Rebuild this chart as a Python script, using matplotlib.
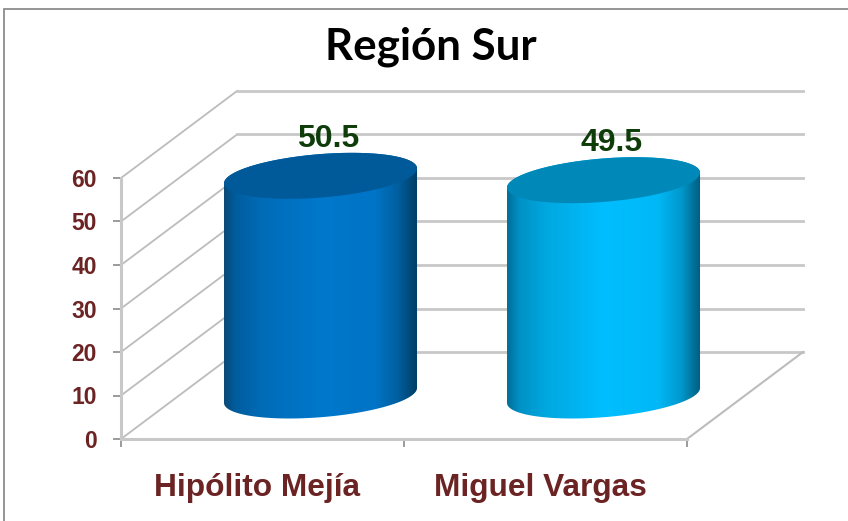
import numpy as np
import matplotlib
matplotlib.use('Agg')
import matplotlib.pyplot as plt
from matplotlib.colors import LinearSegmentedColormap
from matplotlib.patches import Polygon, Rectangle

# Data
candidates = ['Hipólito Mejía', 'Miguel Vargas']
votes = [50.5, 49.5]
y_ticks = [0, 10, 20, 30, 40, 50, 60]
title = 'Región Sur'

# Colours
side_pos = [0, 0.06, 0.2, 0.5, 0.78, 0.9, 1]
side_stops = [
    ['#0a4a78', '#005d9e', '#006cb8', '#0078cc', '#0074c6', '#005f9e', '#003c62'],
    ['#006f98', '#0090c4', '#00a8e0', '#00beff', '#00b8f6', '#0098cc', '#005c7e'],
]
top_colors = ['#005a9a', '#0088b8']
grid_col = '#c8c8c8'
tick_col = '#808080'
label_col = '#6b2323'
value_col = '#0f3d0a'

# 3D look, in data units
depth_x = 0.41
depth_y = 20
half_w = 0.341
tilt = 1.72
minor = 5.0

W, H = 848, 521
fig = plt.figure(figsize=(W / 100, H / 100), dpi=100)
fig.add_artist(Rectangle((4 / W, -0.02), 1.0, 1.02 - 9 / H, transform=fig.transFigure,
                         fill=False, edgecolor='#8c8c8c', linewidth=1.3))
ax = fig.add_axes([121 / W, (H - 439) / H, 566 / W, 261 / H])
ax.set_xlim(0, 2)
ax.set_ylim(0, 60)
for s in ['top', 'right']:
    ax.spines[s].set_visible(False)
for s in ['left', 'bottom']:
    ax.spines[s].set_color(grid_col)
    ax.spines[s].set_linewidth(2.2)

ax.set_xticks([0, 1, 2])
ax.set_xticklabels([])
ax.set_yticks(y_ticks)
ax.set_yticklabels(y_ticks, fontsize=16.5, fontweight='bold', color=label_col,
                   family='Liberation Sans')
ax.tick_params(axis='both', color=tick_col, length=5.5, width=1.1)
ax.tick_params(axis='y', pad=12)

# walls and floor
for v in y_ticks:
    ax.plot([0, depth_x], [v, v + depth_y], color='#bcbcbc', lw=1.3, clip_on=False, zorder=1)
    ax.plot([depth_x, 2 + depth_x], [v + depth_y, v + depth_y], color=grid_col, lw=2.0,
            clip_on=False, zorder=1)
ax.plot([2, 2 + depth_x], [0, depth_y], color='#bcbcbc', lw=1.5, clip_on=False, zorder=1)


def ellipse(cx, cy, t):
    return np.column_stack([cx + half_w * np.cos(t), cy + tilt * np.cos(t) + minor * np.sin(t)])


# cylinders
for i, val in enumerate(votes):
    cx = i + 0.5 + depth_x / 2
    base = depth_y / 2
    top = base + val
    low = ellipse(cx, base, np.linspace(np.pi, 2 * np.pi, 80))
    upp = ellipse(cx, top, np.linspace(0, np.pi, 80))
    body = Polygon(np.vstack([low, upp]), closed=True, transform=ax.transData,
                   facecolor='none', edgecolor='none')
    ax.add_patch(body)
    body.set_clip_on(False)
    cmap = LinearSegmentedColormap.from_list('side%d' % i, list(zip(side_pos, side_stops[i])))
    grad = np.linspace(0, 1, 256).reshape(1, -1)
    im = ax.imshow(grad, cmap=cmap, aspect='auto', zorder=3, interpolation='bilinear',
                   extent=[cx - half_w, cx + half_w, base - 10, top + 10])
    im.set_clip_box(fig.bbox)
    im.set_clip_path(body)
    cap = Polygon(ellipse(cx, top, np.linspace(0, 2 * np.pi, 160)), closed=True,
                  facecolor=top_colors[i], edgecolor='none', zorder=4, clip_on=False)
    ax.add_patch(cap)
    ax.annotate(str(val), (cx, top), xytext=(8, 37), textcoords='offset pixels',
                ha='center', va='center', fontsize=23, fontweight='bold', color=value_col,
                family='Liberation Sans', zorder=5, annotation_clip=False)
    ax.annotate(candidates[i], (i + 0.5, 0), xytext=(-5, -49), textcoords='offset pixels',
                ha='center', va='center', fontsize=22.8, fontweight='bold', color=label_col,
                family='Liberation Sans', annotation_clip=False)

ax.set_xlim(0, 2)
ax.set_ylim(0, 60)
fig.text(431 / W, 1 - 47 / H, title, ha='center', va='center', fontsize=31.6,
         fontweight='bold', family='Lato', color='black')

fig.savefig('out.png', dpi=100)
